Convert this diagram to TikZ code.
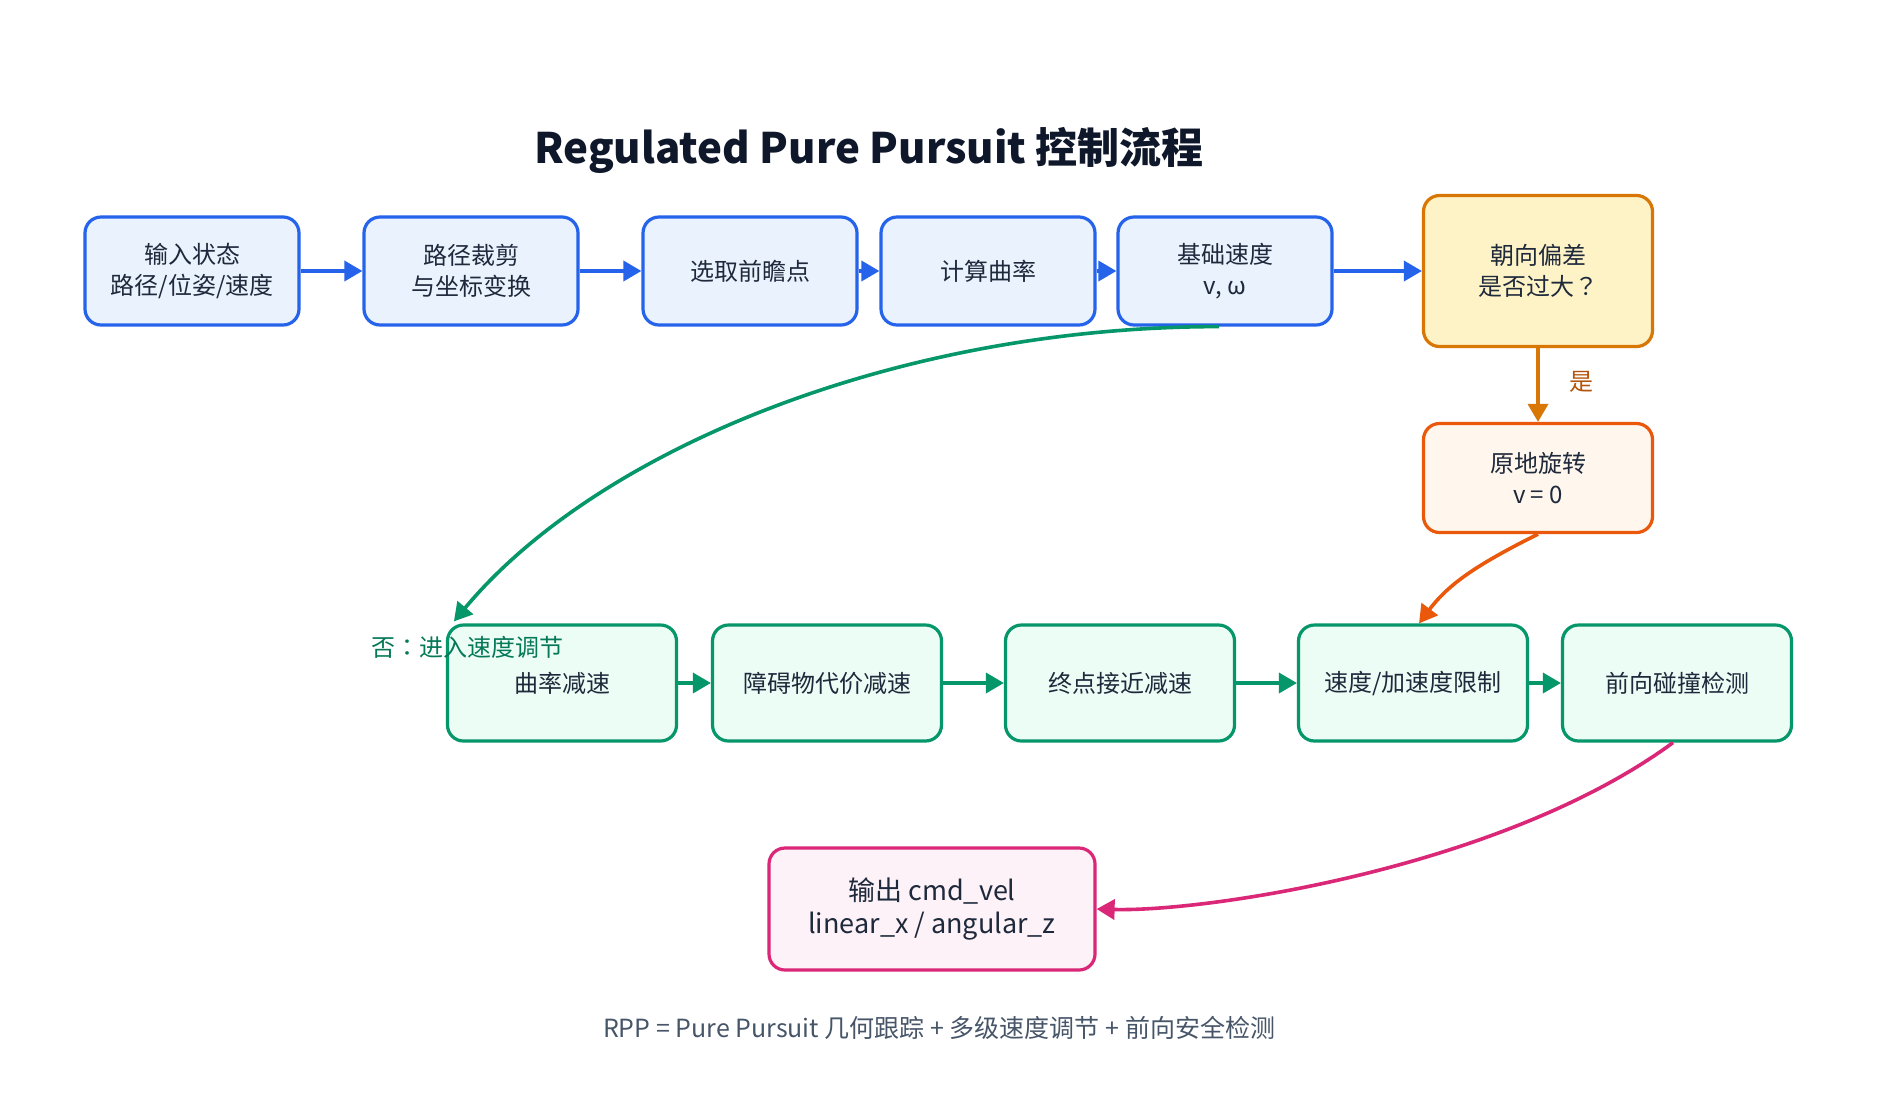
\documentclass[tikz,border=0pt]{standalone}
\usepackage{fontspec}
\setmainfont{Noto Sans CJK SC}
\newfontfamily\jpf{Noto Sans CJK JP}
\usetikzlibrary{arrows.meta,calc}
\definecolor{bluebd}{HTML}{2563EB}
\definecolor{bluefill}{HTML}{EAF2FE}
\definecolor{ambbd}{HTML}{D97706}
\definecolor{ambfill}{HTML}{FEF3C7}
\definecolor{orbd}{HTML}{EA580C}
\definecolor{orfill}{HTML}{FFF7ED}
\definecolor{grbd}{HTML}{059669}
\definecolor{grfill}{HTML}{ECFDF5}
\definecolor{pkbd}{HTML}{DB2777}
\definecolor{pkfill}{HTML}{FDF2F8}
\definecolor{txt}{HTML}{1E293B}
\definecolor{ttl}{HTML}{0F172A}
\definecolor{foot}{HTML}{475569}
\definecolor{nolbl}{HTML}{047857}
\definecolor{yeslbl}{HTML}{B45309}
\tikzset{
  box/.style={rounded corners=8pt, line width=1.6pt, align=center, inner sep=0pt,
    text=txt, font=\fontsize{12}{15.5}\selectfont},
  bluebox/.style={box, draw=bluebd, fill=bluefill, minimum width=107pt, minimum height=54pt},
  greenbox/.style={box, draw=grbd, fill=grfill, minimum width=114.5pt, minimum height=58pt},
  arr/.style={line width=1.8pt, -{Triangle[length=9pt,width=10pt]}},
}
\begin{document}
\begin{tikzpicture}[x=0.5pt,y=-0.5pt]
\useasboundingbox (0,0) rectangle (1878,1104);
\fill[white] (0,0) rectangle (1878,1104);

\node[text=ttl, font=\fontsize{21}{25}\selectfont\bfseries] (title) at (869,150) {Regulated Pure Pursuit 控制流程};

\node[bluebox] (b1) at (192,271) {输入状态\\路径/位姿/速度};
\node[bluebox] (b2) at (471,271) {路径裁剪\\与坐标变换};
\node[bluebox] (b3) at (750,271) {选取前瞻点};
\node[bluebox] (b4) at (988,271) {计算曲率};
\node[bluebox] (b5) at (1225,271) {基础速度\\v, ω};
\node[box, draw=ambbd, fill=ambfill, minimum width=114.5pt, minimum height=75.5pt] (dec) at (1538,271) {朝向偏差\\是否过大{\jpf ？}};
\node[box, draw=orbd, fill=orfill, minimum width=114.5pt, minimum height=54.5pt] (rot) at (1538,478) {原地旋转\\v = 0};

\node[greenbox] (g1) at (562,683) {曲率减速};
\node[greenbox] (g2) at (827,683) {障碍物代价减速};
\node[greenbox] (g3) at (1120,683) {终点接近减速};
\node[greenbox] (g4) at (1413,683) {速度/加速度限制};
\node[greenbox] (g5) at (1677,683) {前向碰撞检测};

\node[box, draw=pkbd, fill=pkfill, minimum width=163pt, minimum height=61pt,
  font=\fontsize{13.5}{16.5}\selectfont] (out) at (932,909) {输出 cmd\_vel\\linear\_x / angular\_z};

\node[text=foot, font=\fontsize{12.5}{15}\selectfont] (footer) at (939,1028)
  {RPP = Pure Pursuit 几何跟踪 + 多级速度调节 + 前向安全检测};

\draw[arr, bluebd] (b1) -- (b2);
\draw[arr, bluebd] (b2) -- (b3);
\draw[arr, bluebd] (b3) -- (b4);
\draw[arr, bluebd] (b4) -- (b5);
\draw[arr, bluebd] (b5) -- (dec);

\draw[arr, ambbd] (dec) -- (rot);
\node[text=yeslbl, font=\fontsize{12}{14}\selectfont] (yes) at (1581,382) {是};

\draw[arr, orbd] (rot.south) .. controls +(-60,30) and +(30,-40) .. ($(g4.north)+(6,0)$);

\draw[arr, grbd] ($(b5.south)+(-6,0)$) .. controls +(-320,0) and +(144,-173) .. ($(g1.north west)+(8,-2)$);
\node[text=nolbl, font=\fontsize{12}{14}\selectfont] (no) at (467,647) {否{\jpf ：}进入速度调节};

\draw[arr, grbd] (g1) -- (g2);
\draw[arr, grbd] (g2) -- (g3);
\draw[arr, grbd] (g3) -- (g4);
\draw[arr, grbd] (g4) -- (g5);

\draw[arr, pkbd] ($(g5.south)+(-4,0)$) .. controls +(-170,125) and +(110,3) .. (out.east);
\end{tikzpicture}
\end{document}
